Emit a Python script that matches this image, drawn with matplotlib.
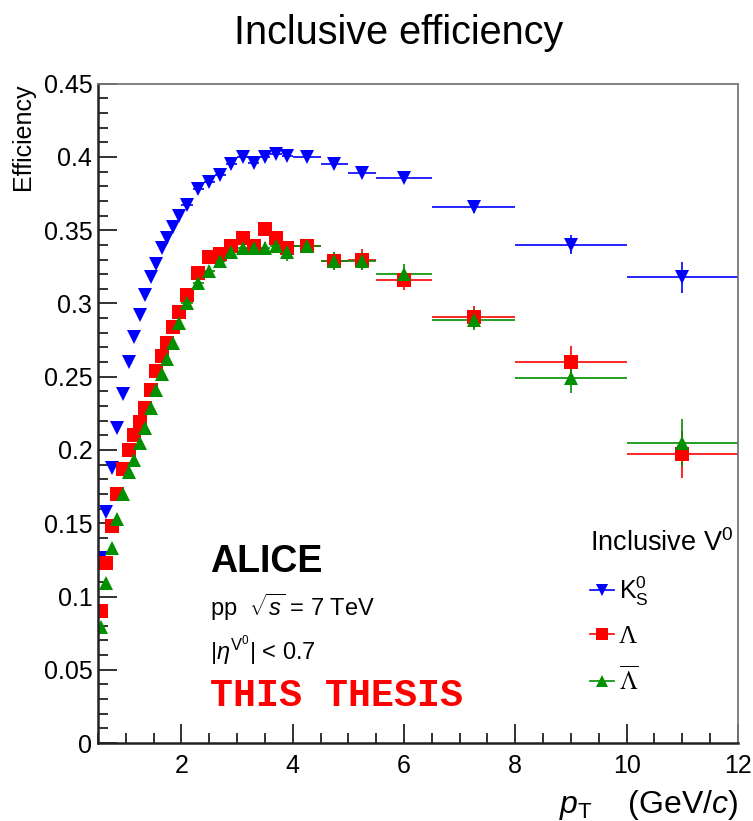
import matplotlib
matplotlib.use("Agg")
import matplotlib.pyplot as plt
from matplotlib.lines import Line2D
from matplotlib.ticker import MultipleLocator, FuncFormatter

plt.rcParams['font.family'] = ['Liberation Sans', 'DejaVu Sans']
plt.rcParams['mathtext.fontset'] = 'custom'
plt.rcParams['mathtext.rm'] = 'Liberation Sans'
plt.rcParams['mathtext.it'] = 'Liberation Sans:italic'
plt.rcParams['mathtext.bf'] = 'Liberation Sans:bold'

# pT bin centres and half widths (GeV/c)
pt = [0.55, 0.65, 0.75, 0.85, 0.95, 1.05, 1.15, 1.25, 1.35, 1.45, 1.55, 1.65,
      1.75, 1.85, 1.95, 2.1, 2.3, 2.5, 2.7, 2.9, 3.1, 3.3, 3.5, 3.7, 3.9,
      4.25, 4.75, 5.25, 6.0, 7.25, 9.0, 11.0]
pt_err = [0.05] * 15 + [0.1] * 10 + [0.25, 0.25, 0.25, 0.5, 0.75, 1.0, 1.0]

eff_k0s = [0.126, 0.158, 0.188, 0.215, 0.238, 0.260, 0.277, 0.292, 0.306, 0.318,
           0.327, 0.338, 0.345, 0.352, 0.360, 0.367, 0.378, 0.383, 0.388, 0.395,
           0.400, 0.396, 0.400, 0.402, 0.401, 0.400, 0.395, 0.389, 0.386, 0.366,
           0.340, 0.318]
err_k0s = [0.001, 0.001, 0.001, 0.001, 0.001, 0.001, 0.001, 0.001, 0.001, 0.001,
           0.001, 0.001, 0.001, 0.001, 0.001, 0.0015, 0.0015, 0.0015, 0.0015, 0.0015,
           0.0015, 0.002, 0.002, 0.002, 0.002, 0.002, 0.002, 0.003, 0.003, 0.004,
           0.0065, 0.0105]

eff_lam = [0.090, 0.123, 0.148, 0.170, 0.187, 0.200, 0.210, 0.219, 0.229, 0.241,
           0.254, 0.264, 0.273, 0.284, 0.294, 0.306, 0.321, 0.332, 0.334, 0.339,
           0.345, 0.339, 0.351, 0.345, 0.338, 0.339, 0.329, 0.330, 0.316, 0.291,
           0.260, 0.197]
err_lam = [0.002, 0.002, 0.002, 0.002, 0.002, 0.002, 0.002, 0.002, 0.002, 0.002,
           0.002, 0.0025, 0.0025, 0.0025, 0.0025, 0.003, 0.003, 0.003, 0.003, 0.003,
           0.0035, 0.0035, 0.004, 0.004, 0.005, 0.004, 0.006, 0.007, 0.0065, 0.0075,
           0.011, 0.016]

eff_alam = [0.079, 0.109, 0.133, 0.153, 0.170, 0.185, 0.193, 0.205, 0.215, 0.229,
            0.241, 0.252, 0.262, 0.273, 0.287, 0.300, 0.314, 0.322, 0.329, 0.335,
            0.338, 0.338, 0.338, 0.339, 0.335, 0.339, 0.329, 0.329, 0.320, 0.289,
            0.249, 0.205]
err_alam = [0.002, 0.002, 0.002, 0.002, 0.002, 0.002, 0.002, 0.002, 0.002, 0.002,
            0.002, 0.0025, 0.0025, 0.0025, 0.0025, 0.003, 0.003, 0.003, 0.003, 0.003,
            0.0035, 0.0035, 0.004, 0.004, 0.006, 0.0045, 0.006, 0.006, 0.007, 0.007,
            0.010, 0.016]

series = [
    (eff_k0s, err_k0s, '#0000ff', 'v', r'K$^{0}_{\mathrm{S}}$'),
    (eff_lam, err_lam, '#ff0000', 's', 'Λ'),
    (eff_alam, err_alam, '#009000', '^', r'$\overline{\mathrm{\Lambda}}$'),
]

fig = plt.figure(figsize=(7.53, 8.21), dpi=100)
ax = fig.add_axes([0.130, 0.095, 0.850, 0.803])

handles = []
for vals, errs, col, mk, lab in series:
    ax.errorbar(pt, vals, xerr=pt_err, yerr=errs, fmt=mk, color=col,
                markersize=10.5 if mk != 's' else 10, elinewidth=1.2,
                capsize=1.8, capthick=1.0, markeredgewidth=0)
    handles.append(Line2D([], [], color=col, marker=mk, markersize=8.5,
                          lw=1.2, markeredgewidth=0))

ax.set_xlim(0.5, 12)
ax.set_ylim(0, 0.45)

ax.xaxis.set_major_locator(MultipleLocator(2))
ax.xaxis.set_minor_locator(MultipleLocator(0.5))
ax.yaxis.set_major_locator(MultipleLocator(0.05))
ax.yaxis.set_minor_locator(MultipleLocator(0.01))
ax.yaxis.set_major_formatter(FuncFormatter(lambda v, p: '%g' % round(v, 3)))
ax.tick_params(which='both', direction='in', labelsize=18, width=1.3,
               color='#222222', top=False, right=False)
ax.tick_params(which='major', length=14, pad=4)
ax.tick_params(which='minor', length=7)
ax.tick_params(axis='x', which='major', pad=8)

for s in ['left', 'bottom']:
    ax.spines[s].set_color('#222222')
    ax.spines[s].set_linewidth(1.8)
for s in ['top', 'right']:
    ax.spines[s].set_color('#777777')
    ax.spines[s].set_linewidth(1.3)

ax.set_xlabel(r'$p_{\mathrm{T}}$    (GeV/$c$)', fontsize=23, loc='right')
ax.xaxis.set_label_coords(1.0, -0.068)
ax.set_ylabel('Efficiency', fontsize=18, loc='top')
ax.yaxis.set_label_coords(-0.098, 1.0)

fig.text(0.529, 0.946, 'Inclusive efficiency', fontsize=28.5, ha='center',
         va='baseline')

ax.text(0.175, 0.259, 'ALICE', transform=ax.transAxes, fontsize=27,
        fontweight='bold', va='baseline')
ax.text(0.175, 0.193, r'pp  $\sqrt{s}$ = 7 TeV', transform=ax.transAxes,
        fontsize=17, va='baseline')
ax.text(0.175, 0.126, r'|$\eta^{\mathrm{V}^{0}}$| < 0.7', transform=ax.transAxes,
        fontsize=17, va='baseline')
ax.text(0.175, 0.056, 'THIS THESIS', transform=ax.transAxes, fontsize=27.5,
        fontweight='bold', color='#ff0000', family='Liberation Mono',
        va='baseline')

leg = ax.legend(handles, [s[4] for s in series], title=r'Inclusive V$^{0}$',
                loc='upper left', bbox_to_anchor=(0.769, 0.324), frameon=False,
                fontsize=18, title_fontsize=19.5, borderpad=0, borderaxespad=0,
                handlelength=0.95, handletextpad=0.2, labelspacing=0.7,
                alignment='left')
texts = leg.get_texts()
texts[1].set_family('Liberation Serif')
texts[2].set_math_fontfamily('stix')

fig.savefig('out.png', dpi=100)
